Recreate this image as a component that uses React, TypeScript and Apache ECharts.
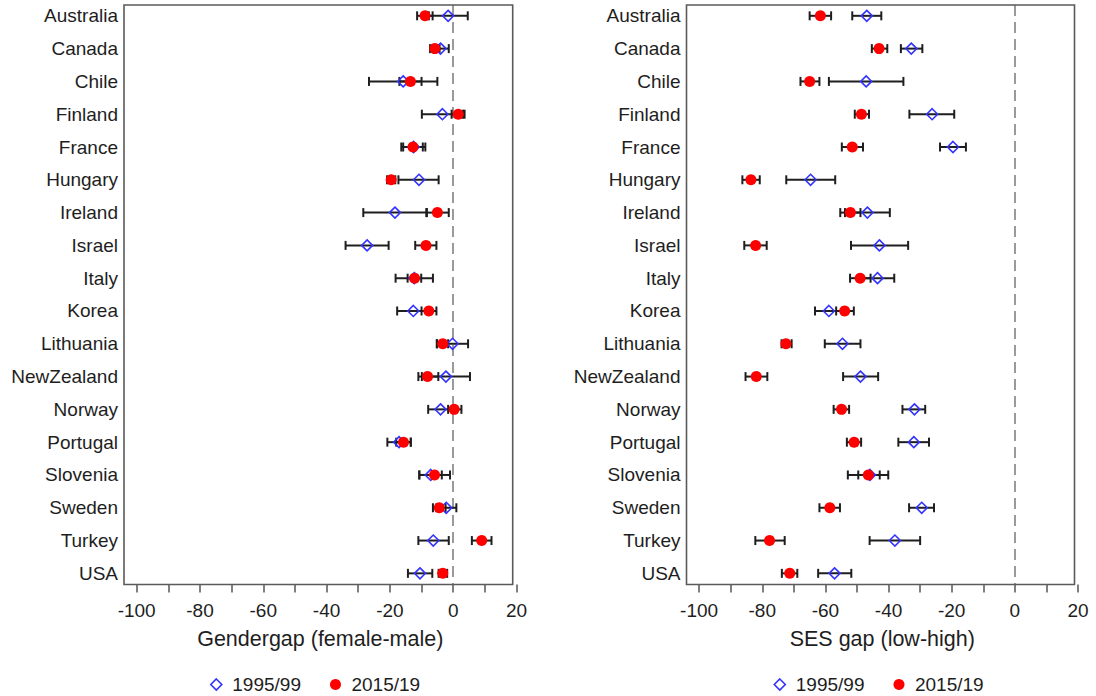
import React, { useEffect, useRef } from "react";
import * as echarts from "echarts";

const countries = [
  "Australia", "Canada", "Chile", "Finland", "France", "Hungary", "Ireland", "Israel", "Italy",
  "Korea", "Lithuania", "NewZealand", "Norway", "Portugal", "Slovenia", "Sweden", "Turkey", "USA",
];

// Gender gap (female-male)
const genderEst95 = [-1.6, -4.0, -15.8, -3.4, -12.5, -10.8, -18.4, -27.2, -12.3, -12.6, -0.2, -2.3, -4.0, -17.1, -7.1, -2.2, -6.3, -10.5];
const genderLo95 = [-7.7, -6.4, -26.6, -9.9, -16.4, -17.3, -28.4, -34.0, -18.2, -17.7, -5.1, -9.9, -7.9, -20.8, -10.7, -5.3, -11.0, -14.3];
const genderHi95 = [4.6, -1.4, -5.0, 3.1, -8.8, -4.6, -8.3, -20.4, -6.4, -7.5, 4.7, 5.3, -0.1, -13.4, -3.6, 1.0, -1.4, -6.6];
const genderEst15 = [-8.9, -5.8, -13.5, 1.6, -12.7, -19.6, -5.0, -8.6, -12.2, -7.7, -3.3, -8.1, 0.3, -15.7, -5.9, -4.4, 9.0, -3.3];
const genderLo15 = [-11.4, -7.3, -17.0, -0.5, -15.8, -20.9, -8.5, -12.0, -14.4, -10.0, -5.2, -11.0, -1.6, -18.0, -10.7, -6.4, 5.9, -4.6];
const genderHi15 = [-6.5, -4.3, -10.0, 3.6, -9.6, -18.3, -1.4, -5.3, -10.1, -5.3, -1.6, -4.7, 2.6, -13.4, -1.0, -2.4, 12.1, -1.9];

// SES gap (low-high)
const sesEst95 = [-46.9, -32.8, -47.1, -26.2, -19.6, -64.7, -46.7, -42.9, -43.5, -58.9, -54.6, -48.9, -31.8, -32.0, -45.9, -29.5, -38.0, -57.1];
const sesLo95 = [-51.5, -36.1, -58.9, -33.4, -23.7, -72.4, -53.8, -51.9, -48.9, -63.3, -60.2, -54.4, -35.6, -36.9, -52.9, -33.5, -46.0, -62.3];
const sesHi95 = [-42.3, -29.3, -35.3, -19.2, -15.5, -56.9, -39.6, -33.8, -38.2, -54.6, -48.9, -43.3, -28.4, -27.2, -40.1, -25.6, -30.0, -51.8];
const sesEst15 = [-61.6, -43.0, -65.0, -48.6, -51.5, -83.6, -52.1, -82.1, -49.0, -53.9, -72.5, -81.9, -54.9, -50.9, -46.4, -58.6, -77.7, -71.3];
const sesLo15 = [-65.0, -45.3, -67.9, -50.7, -54.8, -86.3, -55.3, -85.7, -52.2, -56.6, -73.9, -85.3, -57.4, -53.2, -49.6, -61.9, -82.2, -73.8];
const sesHi15 = [-58.2, -40.4, -61.9, -46.2, -48.1, -80.8, -48.9, -78.6, -45.7, -51.0, -70.7, -78.4, -52.5, -48.7, -42.8, -55.4, -72.9, -68.9];

const xTickValues = [-100, -90, -80, -70, -60, -50, -40, -30, -20, -10, 0, 10, 20];
const xLabelValues = [-100, -80, -60, -40, -20, 0, 20];
const xTitles = ["Gendergap (female-male)", "SES gap (low-high)"];
const legendNames = ["1995/99", "2015/19"];

const BLUE = "#3333ff";
const RED = "#ff0000";
const INK = "#1e1e1e";
const FONT = "'Liberation Sans', Arial, sans-serif";

function ciSeries(name: string, idx: number, lo: number[], hi: number[]) {
  return {
    type: "custom",
    name,
    xAxisIndex: idx,
    yAxisIndex: idx,
    silent: true,
    z: 2,
    data: countries.map((_, i) => [lo[i], hi[i], i + 1]),
    encode: { x: [0, 1], y: 2 },
    renderItem: (_params: any, api: any) => {
      const y = api.value(2);
      const p1 = api.coord([api.value(0), y]);
      const p2 = api.coord([api.value(1), y]);
      const h = 4.5;
      const style = { stroke: INK, lineWidth: 2 };
      return {
        type: "group",
        children: [
          { type: "line", shape: { x1: p1[0], y1: p1[1], x2: p2[0], y2: p2[1] }, style },
          { type: "line", shape: { x1: p1[0], y1: p1[1] - h, x2: p1[0], y2: p1[1] + h }, style },
          { type: "line", shape: { x1: p2[0], y1: p2[1] - h, x2: p2[0], y2: p2[1] + h }, style },
        ],
      };
    },
  };
}

function dotSeries(name: string, idx: number, est: number[], hollow: boolean, withZeroLine: boolean) {
  const s: any = {
    type: "scatter",
    name,
    xAxisIndex: idx,
    yAxisIndex: idx,
    z: hollow ? 3 : 4,
    data: countries.map((_, i) => [est[i], i + 1]),
    symbol: hollow ? "diamond" : "circle",
    symbolSize: 11,
    itemStyle: hollow
      ? { color: "rgba(0,0,0,0)", borderColor: BLUE, borderWidth: 1.6, opacity: 1 }
      : { color: RED, borderWidth: 0, opacity: 1 },
  };
  if (withZeroLine) {
    s.markLine = {
      silent: true,
      symbol: ["none", "none"],
      label: { show: false },
      z: 1,
      lineStyle: { color: "#9a9a9a", type: [11, 6], width: 2, opacity: 1 },
      data: [{ xAxis: 0 }],
    };
  }
  return s;
}

const grids = [
  { left: 124, width: 392.5, top: 5, height: 579.5 },
  { left: 686.5, width: 391.5, top: 5, height: 579.5 },
];
const boxes = [
  { x: 124, y: 5, width: 388.7, height: 579.5 },
  { x: 686.5, y: 5, width: 388, height: 579.5 },
];
const legendLefts = [205, 768.5];

export default function App() {
  const ref = useRef<HTMLDivElement>(null);
  useEffect(() => {
    if (!ref.current) return;
    const chart = echarts.init(ref.current, undefined, { renderer: "svg" });
    const xAxis = [0, 1].map((i) => ({
      type: "value",
      gridIndex: i,
      min: -104,
      max: 20,
      splitLine: { show: false },
      axisLine: { show: false, onZero: false },
      axisTick: { show: true, customValues: xTickValues, length: 8, lineStyle: { color: "#555", width: 1.5 } },
      axisLabel: { customValues: xLabelValues, fontSize: 19, color: INK, margin: 16, fontFamily: FONT },
      name: xTitles[i],
      nameLocation: "middle",
      nameGap: 43,
      nameTextStyle: { fontSize: 21.5, color: INK, fontFamily: FONT },
    }));
    const yAxis = [0, 1].map((i) => ({
      type: "value",
      gridIndex: i,
      inverse: true,
      min: 0.67,
      max: 18.34,
      splitLine: { show: false },
      axisLine: { show: false, onZero: false },
      axisTick: { show: false },
      axisLabel: {
        customValues: countries.map((_, k) => k + 1),
        formatter: (v: number) => countries[Math.round(v) - 1] ?? "",
        fontSize: 19,
        color: INK,
        margin: 6,
        fontFamily: FONT,
      },
    }));
    const series: any[] = [
      ciSeries("ci95g", 0, genderLo95, genderHi95),
      dotSeries(legendNames[0], 0, genderEst95, true, true),
      ciSeries("ci15g", 0, genderLo15, genderHi15),
      dotSeries(legendNames[1], 0, genderEst15, false, false),
      ciSeries("ci95s", 1, sesLo95, sesHi95),
      dotSeries(legendNames[0], 1, sesEst95, true, true),
      ciSeries("ci15s", 1, sesLo15, sesHi15),
      dotSeries(legendNames[1], 1, sesEst15, false, false),
    ];
    const legend = legendLefts.map((l) => ({
      left: l,
      top: 670,
      orient: "horizontal",
      itemWidth: 11,
      itemHeight: 11,
      itemGap: 29,
      selectedMode: false,
      textStyle: { fontSize: 19, color: INK, fontFamily: FONT, padding: [0, 0, 0, 5.5] },
      data: [
        { name: legendNames[0], icon: "diamond", itemStyle: { color: "rgba(0,0,0,0)", borderColor: BLUE, borderWidth: 1.6, opacity: 1 } },
        { name: legendNames[1], icon: "circle", itemStyle: { color: RED, borderWidth: 0, opacity: 1 } },
      ],
    }));
    chart.setOption({
      animation: false,
      backgroundColor: "#ffffff",
      textStyle: { fontFamily: FONT },
      grid: grids,
      xAxis,
      yAxis,
      legend,
      graphic: boxes.map((b) => ({
        type: "rect",
        shape: b,
        style: { fill: "none", stroke: "#5a5a5a", lineWidth: 1.6 },
        silent: true,
        z: 10,
      })),
      series,
    });
    return () => chart.dispose();
  }, []);
  return (
    <div
      ref={ref}
      style={{ position: "fixed", left: 0, top: 0, width: 1096, height: 696, background: "#fff" }}
    />
  );
}
